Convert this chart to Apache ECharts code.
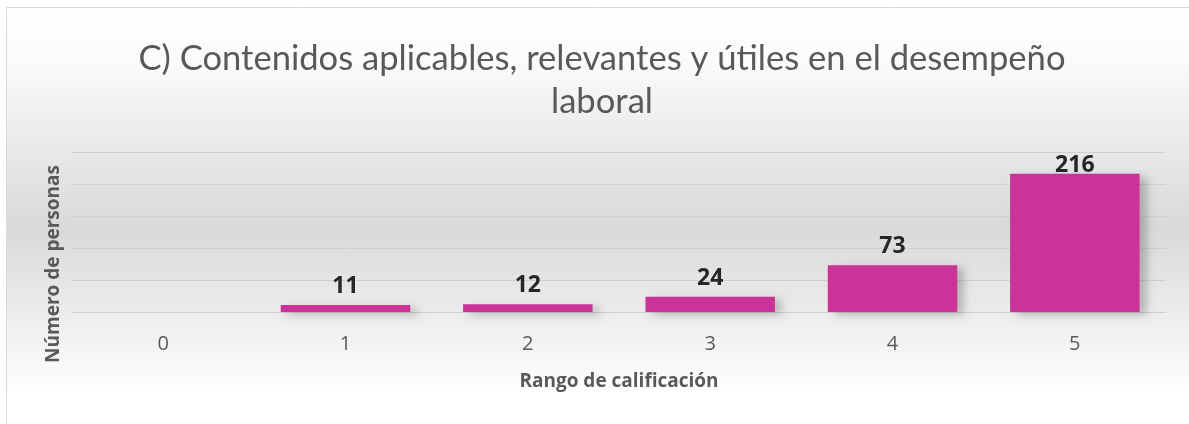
<!DOCTYPE html>
<html>
<head>
<meta charset="utf-8">
<script src="https://cdn.jsdelivr.net/npm/echarts@6/dist/echarts.min.js"></script>
<style>html,body{margin:0;padding:0;background:#fff}#c{width:1189px;height:424px}</style>
</head>
<body>
<div id="c"></div>
<script>
const categories = ['0', '1', '2', '3', '4', '5'];
const values = [0, 11, 12, 24, 73, 216];
const titleText = 'C) Contenidos aplicables, relevantes y útiles en el desempeño\nlaboral';
const xName = 'Rango de calificación';
const yName = 'Número de personas';

const yMax = 250;
// labels near the top of the plot are kept inside it (as the original chart does)
const barData = values.map(v => (v > yMax * 0.8 ? { value: v, label: { distance: -3 } } : v));

const chart = echarts.init(document.getElementById('c'));
chart.setOption({
  animation: false,
  graphic: [
    {
      type: 'rect', z: -10, silent: true,
      shape: { x: 6.5, y: 7.5, width: 1220, height: 440 },
      style: {
        stroke: '#d9d9d9', lineWidth: 1,
        fill: new echarts.graphic.LinearGradient(0, 0, 0, 1, [
          { offset: 0, color: '#ffffff' },
          { offset: 0.12, color: '#fbfbfb' },
          { offset: 0.5, color: '#d9d9d9' },
          { offset: 0.88, color: '#ffffff' },
          { offset: 1, color: '#ffffff' }
        ])
      }
    },
    {
      type: 'text', x: 54, y: 264, rotation: Math.PI / 2,
      style: {
        text: yName, x: 0, y: 0, align: 'center', verticalAlign: 'middle',
        font: 'bold 19px "Open Sans", sans-serif', fill: '#595959'
      }
    }
  ],
  title: {
    text: titleText, left: 597, top: 32, textAlign: 'center',
    textStyle: { fontFamily: 'Lato', fontWeight: 'normal', fontSize: 34.6, color: '#595959', lineHeight: 43 }
  },
  grid: { left: 72, right: 23, top: 152, bottom: 112 },
  xAxis: {
    type: 'category', data: categories,
    name: xName, nameLocation: 'middle', nameGap: 60,
    nameTextStyle: { fontFamily: 'Open Sans', fontWeight: 'bold', fontSize: 19, color: '#595959' },
    axisLine: { lineStyle: { color: '#d0d0d0' } },
    axisTick: { show: false },
    axisLabel: { fontFamily: 'Open Sans', fontSize: 20, color: '#595959', margin: 22 }
  },
  yAxis: {
    type: 'value', min: 0, max: yMax, interval: 50,
    axisLabel: { show: false },
    axisLine: { show: false }, axisTick: { show: false },
    splitLine: { lineStyle: { color: '#d0d0d0' } }
  },
  series: [{
    type: 'bar', data: barData, barCategoryGap: '29%',
    itemStyle: {
      color: '#cc3399',
      shadowColor: 'rgba(0,0,0,0.22)', shadowBlur: 8, shadowOffsetX: 7, shadowOffsetY: 3
    },
    label: {
      show: true, position: 'top', distance: 7,
      formatter: p => p.value === 0 ? '' : p.value,
      fontFamily: 'Open Sans', fontWeight: 'bold', fontSize: 23, color: '#262626'
    }
  }]
});
</script>
</body>
</html>
